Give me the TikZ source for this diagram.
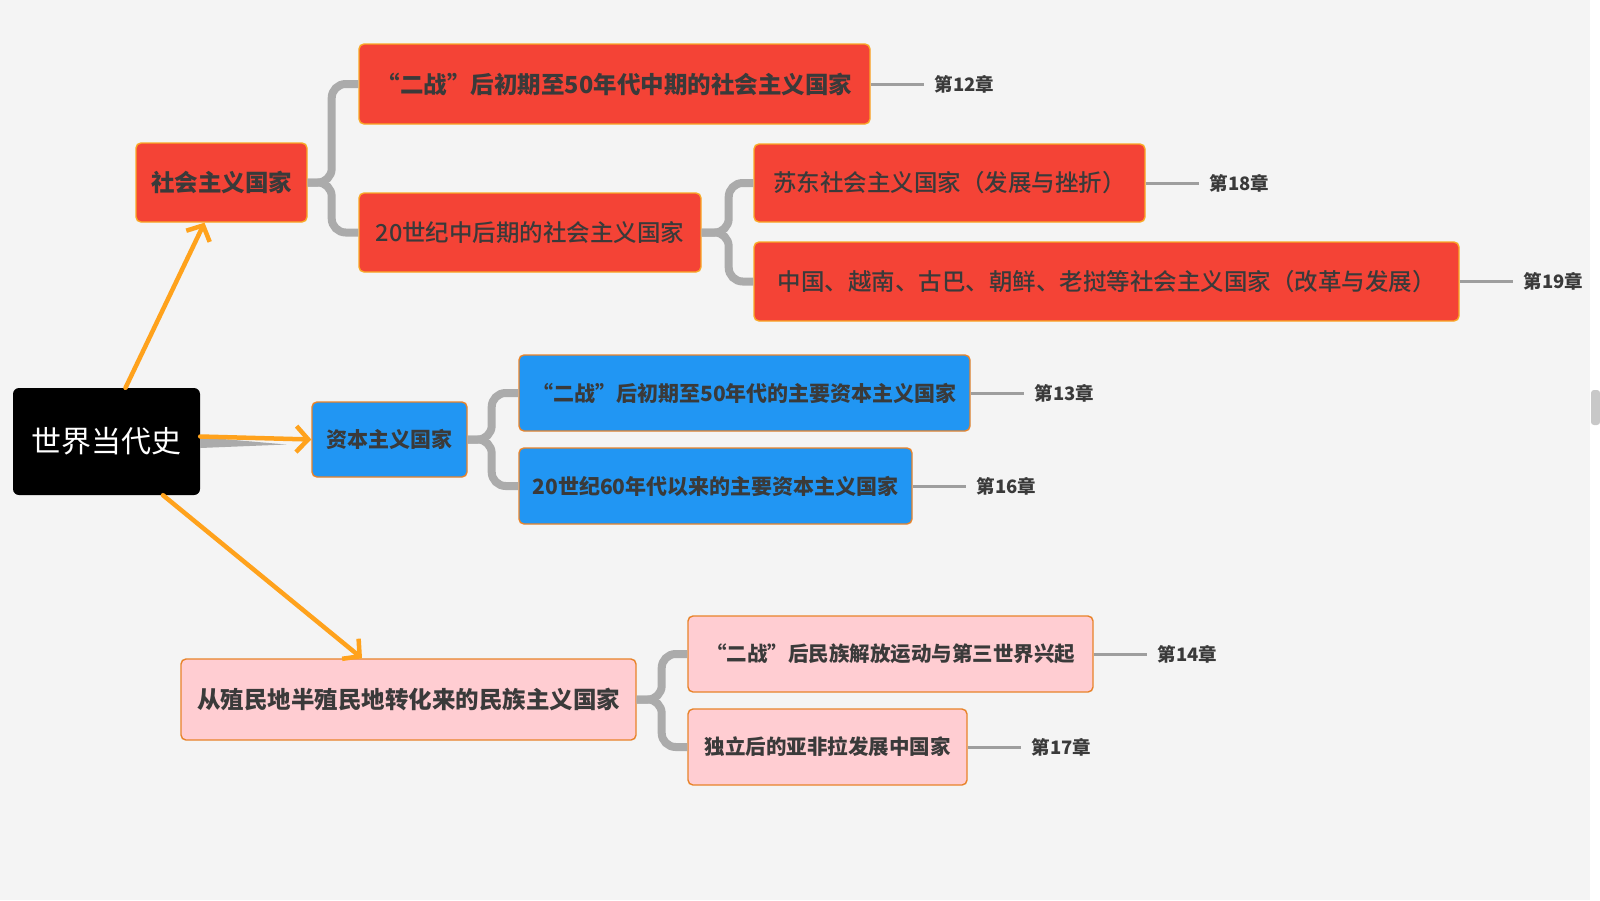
\documentclass[tikz,border=0pt]{standalone}
\usepackage{fontspec}
\newfontfamily\cjk{Noto Sans CJK SC}
\newfontfamily\cjkmed{Noto Sans CJK SC Medium}
\usetikzlibrary{arrows.meta,positioning,calc}
\definecolor{bggray}{HTML}{F4F4F4}
\definecolor{mmred}{HTML}{F44336}
\definecolor{mmredline}{HTML}{F9A825}
\definecolor{mmblue}{HTML}{2196F3}
\definecolor{mmpink}{HTML}{FFCDD2}
\definecolor{mmorange}{HTML}{E8832A}
\definecolor{mmarrow}{HTML}{FFA21C}
\definecolor{mmline}{HTML}{ABABAB}
\definecolor{mmleaf}{HTML}{9E9E9E}
\definecolor{mmtext}{HTML}{3A3A3A}
\definecolor{mmscroll}{HTML}{C8C8C8}

\begin{document}
\begin{tikzpicture}[x=1pt,y=-1pt,
  rootbox/.style={fill=black, rounded corners=6pt, text=white, minimum width=187pt, minimum height=107pt, font=\cjk\fontsize{30}{36}\selectfont},
  topic/.style={rounded corners=5pt, line width=1.4pt, text=mmtext, inner sep=0pt, font=\cjk\bfseries\fontsize{23.5}{28}\selectfont},
  redbox/.style={topic, fill=mmred, draw=mmredline},
  bluebox/.style={topic, fill=mmblue, draw=mmorange, font=\cjk\bfseries\fontsize{21}{25}\selectfont},
  pinkbox/.style={topic, fill=mmpink, draw=mmorange},
  plain/.style={font=\cjkmed\fontsize{23.5}{28}\selectfont},
  chap/.style={inner sep=0pt, text=mmtext, font=\cjk\bfseries\fontsize{18.5}{22}\selectfont},
  branch/.style={draw=mmline, line width=8pt, rounded corners=14pt},
  leaf/.style={draw=mmleaf, line width=3pt, shorten >=11pt},
  trunk/.style={draw=mmarrow, line width=4.5pt, line cap=round, -{Straight Barb[length=12pt,width=26pt]}}
]
  % canvas
  \fill[bggray] (0,0) rectangle (1600,900);
  \fill[white] (1590,0) rectangle (1600,900);
  \fill[mmscroll, rounded corners=3pt] (1591,390) rectangle (1600,425);

  \node[rootbox] (root) at (106.5,441.5) {世界当代史};

  % socialist countries
  \node[redbox, minimum width=171pt, minimum height=79pt] (soc) at (221.5,182.5) {社会主义国家};
  \node[redbox, minimum width=511pt, minimum height=80pt] (soc1) at (614.5,84) {“二战”后初期至50年代中期的社会主义国家};
  \node[redbox, plain, minimum width=342pt, minimum height=79pt] (soc2) at (530,232.5) {20世纪中后期的社会主义国家};
  \node[redbox, plain, minimum width=391pt, minimum height=78pt] (soc21) at (949.5,183) {苏东社会主义国家（发展与挫折）};
  \node[redbox, plain, minimum width=705pt, minimum height=79pt] (soc22) at (1106.5,281.5) {中国、越南、古巴、朝鲜、老挝等社会主义国家（改革与发展）};

  % capitalist countries
  \node[bluebox, minimum width=155pt, minimum height=75pt] (cap) at (389.5,439.5) {资本主义国家};
  \node[bluebox, minimum width=451pt, minimum height=76pt] (cap1) at (744.5,393) {“二战”后初期至50年代的主要资本主义国家};
  \node[bluebox, minimum width=393pt, minimum height=76pt] (cap2) at (715.5,486) {20世纪60年代以来的主要资本主义国家};

  % nationalist countries
  \node[pinkbox, minimum width=455pt, minimum height=81pt] (nat) at (408.5,699.5) {从殖民地半殖民地转化来的民族主义国家};
  \node[pinkbox, font=\cjk\bfseries\fontsize{20.5}{25}\selectfont, minimum width=405pt, minimum height=76pt] (nat1) at (890.5,654) {“二战”后民族解放运动与第三世界兴起};
  \node[pinkbox, font=\cjk\bfseries\fontsize{20.5}{25}\selectfont, minimum width=279pt, minimum height=76pt] (nat2) at (827.5,747) {独立后的亚非拉发展中国家};

  % chapters
  \node[chap, right=64pt of soc1] (c12) {第12章};
  \node[chap, right=64pt of soc21] (c18) {第18章};
  \node[chap, right=64pt of soc22] (c19) {第19章};
  \node[chap, right=64pt of cap1] (c13) {第13章};
  \node[chap, right=64pt of cap2] (c16) {第16章};
  \node[chap, right=64pt of nat1] (c14) {第14章};
  \node[chap, right=64pt of nat2] (c17) {第17章};

  \draw[branch] (soc.east) -- ++(24,0) |- (soc1.west);
  \draw[branch] (soc.east) -- ++(24,0) |- (soc2.west);
  \draw[branch] (soc2.east) -- ++(27,0) |- (soc21.west);
  \draw[branch] (soc2.east) -- ++(27,0) |- (soc22.west);
  \draw[branch] (cap.east) -- ++(24,0) |- (cap1.west);
  \draw[branch] (cap.east) -- ++(24,0) |- (cap2.west);
  \draw[branch] (nat.east) -- ++(25,0) |- (nat1.west);
  \draw[branch] (nat.east) -- ++(25,0) |- (nat2.west);

  \draw[leaf] (soc1.east) -- (c12.west);
  \draw[leaf] (soc21.east) -- (c18.west);
  \draw[leaf] (soc22.east) -- (c19.west);
  \draw[leaf] (cap1.east) -- (c13.west);
  \draw[leaf] (cap2.east) -- (c16.west);
  \draw[leaf] (nat1.east) -- (c14.west);
  \draw[leaf] (nat2.east) -- (c17.west);

  \fill[mmline] ([yshift=4.5pt]root.east) -- ([yshift=-6.5pt]root.east) -- ([xshift=-25pt,yshift=-5pt]cap.west) -- cycle;
  \draw[trunk] ([xshift=19pt]root.north) -- ([xshift=-17pt]soc.south);
  \draw[trunk] ([yshift=5pt]root.east) -- (cap.west);
  \draw[trunk] ([xshift=56.5pt]root.south) -- ([xshift=-46.5pt]nat.north);
\end{tikzpicture}
\end{document}
